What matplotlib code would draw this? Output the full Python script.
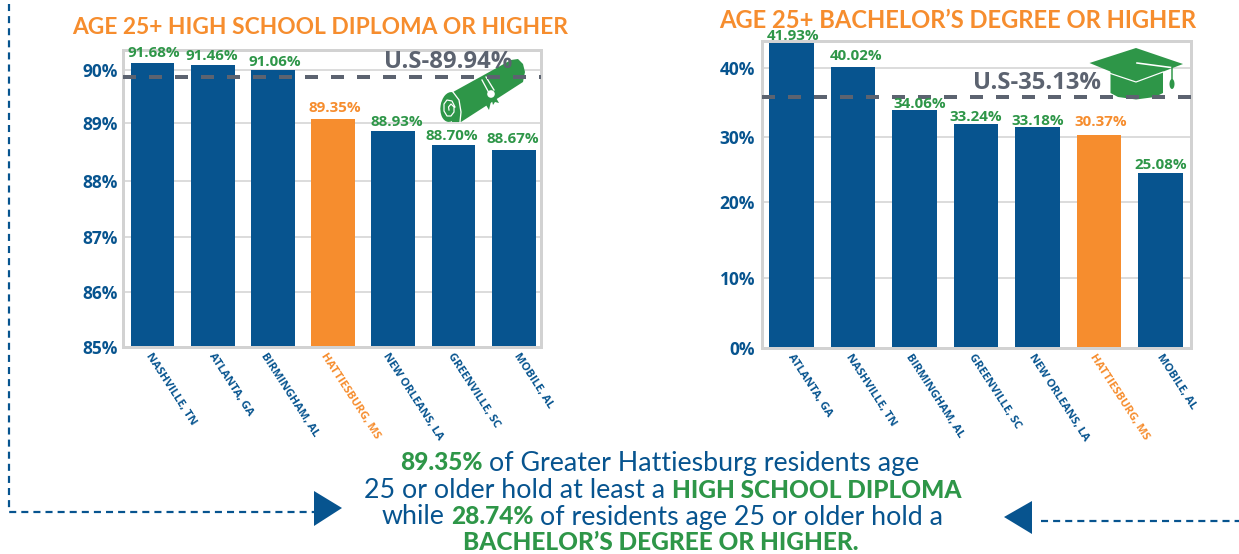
"""Educational attainment bar charts for Greater Hattiesburg and peer cities."""

import matplotlib

matplotlib.use("Agg")

import matplotlib.pyplot as plt
from matplotlib.patches import Circle, Ellipse, Polygon
from matplotlib.transforms import Affine2D

BLUE = "#07548f"
ORANGE = "#f68d2e"
GREEN = "#2e9648"
GRAY = "#5c6370"
FRAME = "#d2d2d2"
GRID = "#dcdcdc"

WIDTH_PX = 1239
HEIGHT_PX = 554

# High school chart. Bar heights are as drawn against the axis, which differ
# a little from the printed labels in the original graphic.
hs_cities = ["NASHVILLE, TN", "ATLANTA, GA", "BIRMINGHAM, AL", "HATTIESBURG, MS",
             "NEW ORLEANS, LA", "GREENVILLE, SC", "MOBILE, AL"]
hs_heights = [90.13, 90.09, 90.00, 89.12, 88.90, 88.65, 88.56]
hs_labels = ["91.68%", "91.46%", "91.06%", "89.35%", "88.93%", "88.70%", "88.67%"]
hs_ticks = [85, 85.99, 86.99, 88.0, 89.04, 90]
hs_tick_labels = ["85%", "86%", "87%", "88%", "89%", "90%"]
hs_us_line = 89.87
hs_us_label = "U.S-89.94%"

# Bachelor's chart
ba_cities = ["ATLANTA, GA", "NASHVILLE, TN", "BIRMINGHAM, AL", "GREENVILLE, SC",
             "NEW ORLEANS, LA", "HATTIESBURG, MS", "MOBILE, AL"]
ba_heights = [43.7, 40.14, 34.0, 32.0, 31.57, 30.43, 25.0]
ba_labels = ["41.93%", "40.02%", "34.06%", "33.24%", "33.18%", "30.37%", "25.08%"]
ba_ticks = [0, 10, 20.86, 30.14, 40]
ba_tick_labels = ["0%", "10%", "20%", "30%", "40%"]
ba_us_line = 35.86
ba_us_label = "U.S-35.13%"

fig = plt.figure(figsize=(WIDTH_PX / 100, HEIGHT_PX / 100), dpi=100)
# pixel coordinates of the picture, y going down
pix = Affine2D().scale(1 / WIDTH_PX, -1 / HEIGHT_PX).translate(0, 1) + fig.transFigure


def px(value):
    """Pixels to points at the figure's dpi."""
    return value * 0.72


def make_axes(left, top, right, bottom):
    return fig.add_axes([left / WIDTH_PX, 1 - bottom / HEIGHT_PX,
                         (right - left) / WIDTH_PX, (bottom - top) / HEIGHT_PX])


def draw_chart(ax, cities, heights, labels, ticks, tick_labels, ylim, xlim,
               label_nudge, city_nudge, tick_pad):
    colors = [ORANGE if c.startswith("HATTIESBURG") else BLUE for c in cities]
    positions = range(len(cities))
    ax.bar(positions, [h - ylim[0] for h in heights], bottom=ylim[0], width=0.73,
           color=colors, zorder=2)
    ax.set_xlim(*xlim)
    ax.set_ylim(*ylim)
    ax.set_xticks([])
    ax.set_yticks(ticks, tick_labels, fontfamily="Open Sans", fontweight="bold",
                  fontsize=12.5, color=BLUE)
    ax.tick_params(axis="y", length=0, pad=tick_pad)
    ax.grid(axis="y", color=GRID, linewidth=px(2), zorder=1)
    ax.set_axisbelow(True)
    for spine in ax.spines.values():
        spine.set_color(FRAME)
        spine.set_linewidth(px(3))

    for i, city in enumerate(cities):
        dx, dy = label_nudge[i]
        ax.annotate(labels[i], (i, heights[i]), xytext=(px(dx), px(dy)),
                    textcoords="offset points", ha="center", va="center",
                    fontfamily="Open Sans", fontweight="bold", fontsize=10.9,
                    color=ORANGE if colors[i] == ORANGE else GREEN, zorder=6,
                    annotation_clip=False)
        ax.annotate(city, (i, ylim[0]), xytext=(px(city_nudge[i]), px(-7)),
                    textcoords="offset points", ha="left", va="center",
                    rotation=-57, rotation_mode="anchor",
                    fontfamily="Open Sans", fontweight="bold", fontsize=8.1,
                    color=colors[i], annotation_clip=False)


def draw_us_line(ax, value, label, label_x, label_y):
    ax.axhline(value, color=GRAY, linewidth=px(4), dashes=(3.25, 3.25), zorder=5)
    ax.text(label_x, label_y, label, transform=pix, ha="left", va="center",
            fontfamily="Open Sans", fontweight="bold", fontsize=17.2,
            color=GRAY, zorder=4.5)


def draw_diploma(ax):
    body = [(453, 92), (511, 60), (518, 59), (523, 64), (525, 72), (523, 82),
            (461, 122), (452, 122)]
    ax.add_patch(Polygon(body, closed=True, fc=GREEN, ec="none", transform=pix,
                         zorder=3, clip_on=False))
    ax.add_patch(Ellipse((450, 107), 19, 30, angle=8, fc=GREEN, ec="none",
                         transform=pix, zorder=3, clip_on=False))
    # edge of the roll and the paper spiral
    ax.plot([453, 459, 461, 460], [92, 100, 112, 122], color="white",
            linewidth=px(1.3), transform=pix, zorder=3.2, clip_on=False)
    ax.plot([455, 452, 447, 444, 444, 447, 451, 454, 454, 451, 448.5, 449],
            [107, 101, 100, 104, 111, 116, 116, 112, 107, 104, 107, 110],
            color="white", linewidth=px(1.2), transform=pix, zorder=3.2, clip_on=False)
    # ribbon
    for x_vals, y_vals in [([482, 489], [80, 93]), ([486, 494], [77, 90])]:
        ax.plot(x_vals, y_vals, color="white", linewidth=px(1.3), transform=pix,
                zorder=3.2, clip_on=False)
    tails = [(487, 97), (492, 97), (489, 110), (486, 105), (488, 100)]
    ax.add_patch(Polygon(tails, fc=GREEN, ec="none", transform=pix, zorder=3.1,
                         clip_on=False))
    tails = [(491, 97), (495, 96), (499, 103), (495, 102), (493, 105)]
    ax.add_patch(Polygon(tails, fc=GREEN, ec="none", transform=pix, zorder=3.1,
                         clip_on=False))
    ax.add_patch(Circle((491, 94), 3.8, fc="white", ec="none", transform=pix,
                        zorder=3.3, clip_on=False))


def draw_cap(ax):
    base = [(1110.5, 71), (1163, 71), (1163, 93), (1155, 97), (1136, 99.5),
            (1118, 97), (1110.5, 93)]
    ax.add_patch(Polygon(base, fc=GREEN, ec="none", transform=pix, zorder=3,
                         clip_on=False))
    board = [(1136, 48), (1183, 64), (1136, 82), (1089.5, 63)]
    ax.add_patch(Polygon(board, fc=GREEN, ec="none", transform=pix, zorder=3.1,
                         clip_on=False))
    ax.plot([1110.5, 1136, 1163], [73.5, 82, 72], color="white", linewidth=px(1.2),
            transform=pix, zorder=3.2, clip_on=False)
    ax.plot([1137, 1171], [63, 67.5], color="white", linewidth=px(1.6),
            transform=pix, zorder=3.2, clip_on=False)
    ax.plot([1172, 1172], [67, 80], color=GREEN, linewidth=px(1.5), transform=pix,
            zorder=3.2, clip_on=False)
    ax.add_patch(Ellipse((1172, 84), 5, 10, fc=GREEN, ec="none", transform=pix,
                         zorder=3.2, clip_on=False))


ax_hs = make_axes(123, 50, 541, 347)
draw_chart(
    ax_hs, hs_cities, hs_heights, hs_labels, hs_ticks, hs_tick_labels,
    ylim=(85, 90.36), xlim=(-0.49, 6.453),
    label_nudge=[(1.5, 10), (-1, 9), (2, 8), (2, 11), (3, 9), (-2, 9), (-1, 11)],
    city_nudge=[-5, -2, -10, -10, -8, -4, 2],
    tick_pad=4,
)
draw_diploma(ax_hs)
draw_us_line(ax_hs, hs_us_line, hs_us_label, 384, 62)

ax_ba = make_axes(762, 41, 1191, 348)
draw_chart(
    ax_ba, ba_cities, ba_heights, ba_labels, ba_ticks, ba_tick_labels,
    ylim=(0, 43.86), xlim=(-0.48, 6.496),
    label_nudge=[(1.5, 6), (3, 11), (5, 6), (0, 7), (0, 6), (2, 13), (0, 8)],
    city_nudge=[-1.5, -5.5, -6.5, -5.5, -6.5, -7.5, -1.5],
    tick_pad=5,
)
draw_cap(ax_ba)
draw_us_line(ax_ba, ba_us_line, ba_us_label, 973, 83)

fig.text(320 / WIDTH_PX, 1 - 28 / HEIGHT_PX, "AGE 25+ HIGH SCHOOL DIPLOMA OR HIGHER",
         ha="center", va="center", fontfamily="Lato", fontweight="bold",
         fontsize=16.4, color=ORANGE)
fig.text(958 / WIDTH_PX, 1 - 20 / HEIGHT_PX, "AGE 25+ BACHELOR\u2019S DEGREE OR HIGHER",
         ha="center", va="center", fontfamily="Lato", fontweight="bold",
         fontsize=17.1, color=ORANGE)

# Frame lines running from the charts to the summary text
overlay = fig.add_axes([0, 0, 1, 1], facecolor="none")
overlay.set_xlim(0, WIDTH_PX)
overlay.set_ylim(HEIGHT_PX, 0)
overlay.axis("off")
overlay.plot([9, 9, 314], [4, 512, 512], color=BLUE, linewidth=px(2.2), dashes=(3.2, 2.3))
overlay.plot([1041, 1239], [521, 521], color=BLUE, linewidth=px(2.2), dashes=(3.2, 2.3))
overlay.add_patch(Polygon([(314, 491), (314, 526), (342, 508)], fc=BLUE, ec="none"))
overlay.add_patch(Polygon([(1032, 501), (1032, 534), (1004, 517)], fc=BLUE, ec="none"))


def summary_line(center_x, y, runs):
    """Write one centred line made of regular blue and bold green runs."""
    renderer = fig.canvas.get_renderer()
    gap = 6.5
    pieces = []
    for text, bold in runs:
        piece = overlay.text(0, y, text, ha="left", va="center", fontfamily="Lato",
                             fontweight="black" if bold else "normal",
                             fontsize=17.6 if bold else 19.3,
                             color=GREEN if bold else BLUE)
        pieces.append(piece)
    widths = [p.get_window_extent(renderer).width for p in pieces]
    x = center_x - (sum(widths) + gap * (len(pieces) - 1)) / 2
    for piece, width in zip(pieces, widths):
        piece.set_x(x)
        x += width + gap


summary_line(660, 463, [("89.35%", True), ("of Greater Hattiesburg residents age", False)])
summary_line(663, 490, [("25 or older hold at least a", False), ("HIGH SCHOOL DIPLOMA", True)])
summary_line(662, 517, [("while", False), ("28.74%", True), ("of residents age 25 or older hold a", False)])
summary_line(661, 542, [("BACHELOR\u2019S DEGREE OR HIGHER.", True)])

fig.savefig("out.png", dpi=100)
